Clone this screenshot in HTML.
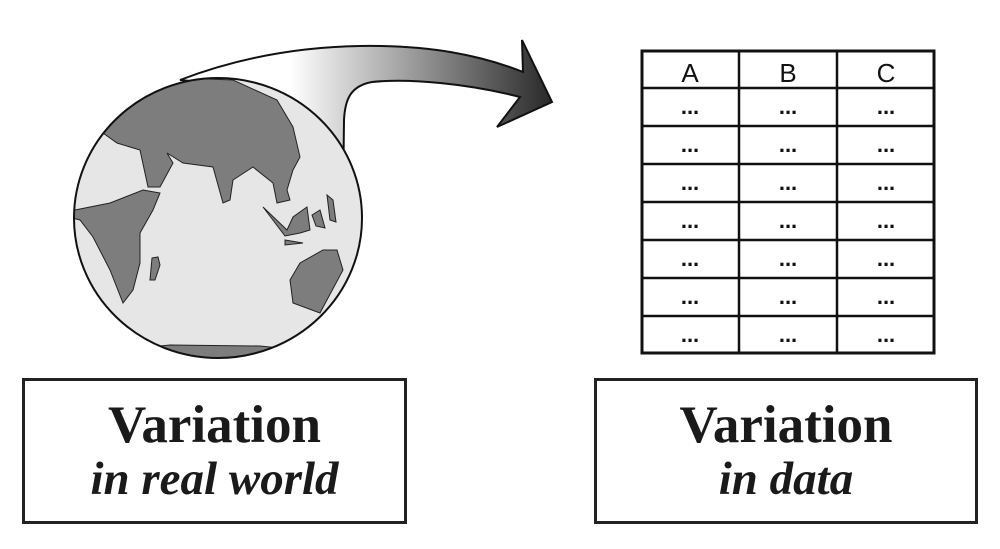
<!DOCTYPE html>
<html><head><style>
html,body{margin:0;padding:0;background:#fff;}
body{width:1000px;height:549px;position:relative;overflow:hidden;}
.box{position:absolute;top:378px;height:140px;border:3px solid #222;box-sizing:content-box;}
.t1{position:absolute;left:0;right:0;text-align:center;font-family:"Liberation Serif",serif;font-weight:bold;font-size:53px;color:#1a1a1a;line-height:53px;}
.t2{position:absolute;left:0;right:0;text-align:center;font-family:"Liberation Serif",serif;font-weight:bold;font-style:italic;font-size:47px;color:#1a1a1a;line-height:47px;}
</style></head><body>
<svg width="1000" height="549" style="position:absolute;left:0;top:0">
<defs>
<linearGradient id="g" x1="290" y1="0" x2="560" y2="0" gradientUnits="userSpaceOnUse">
<stop offset="0" stop-color="#fff"/><stop offset="1" stop-color="#222"/></linearGradient>
<clipPath id="c"><ellipse cx="218" cy="218" rx="144" ry="140"/></clipPath>
</defs>
<path d="M180,80 C240,57 300,47 360,46 C430,45 480,55 523,72 L522,40 L552,102 L497,127 L520,97 C470,84 410,78 372,82 C350,86 345,100 344,120 L343,200 C340,140 300,90 180,80 Z" fill="url(#g)" stroke="#111" stroke-width="2"/>
<ellipse cx="218" cy="218" rx="144" ry="140" fill="#e6e6e6"/>
<g fill="#7d7d7d" stroke="#222" stroke-width="1" clip-path="url(#c)">
<path d="M100,130 L127,92 L160,77 L233,80 L277,100 L293,127 L300,157 L293,170 L287,190 L290,200 L277,203 L273,183 L253,167 L233,180 L230,200 L223,203 L213,167 L183,163 L167,153 L173,163 L160,187 L148,187 L140,150 L117,143 L103,133 Z"/>
<path d="M75,210 L110,203 L143,190 L160,193 L153,210 L140,233 L140,263 L133,290 L123,303 L110,270 L93,237 L80,220 L60,215 Z"/>
<path d="M290,280 L300,263 L323,250 L337,250 L343,270 L320,313 L293,303 Z"/>
<path d="M263,207 L287,230 L293,217 L307,207 L310,230 L300,233 L285,236 Z"/>
<path d="M312,215 L320,210 L325,228 L316,226 Z"/>
<path d="M327,195 L333,200 L336,222 L330,220 Z"/>
<path d="M285,240 L303,243 L285,245 Z"/>
<path d="M152,258 L158,257 L160,265 L155,280 L150,280 Z"/>
<path d="M120,350 L170,345 L260,346 L320,352 L320,380 L120,380 Z"/>
</g>
<ellipse cx="218" cy="218" rx="144" ry="140" fill="none" stroke="#111" stroke-width="2"/>
</svg>
<svg width="1000" height="549" style="position:absolute;left:0;top:0;font-family:'Liberation Sans',sans-serif">
<rect x="642" y="51" width="292" height="302" fill="#fff" stroke="#111" stroke-width="3"/>
<g stroke="#111" stroke-width="2.5">
<line x1="739" y1="51" x2="739" y2="353"/><line x1="837" y1="51" x2="837" y2="353"/>
<line x1="642" y1="88" x2="934" y2="88"/><line x1="642" y1="126" x2="934" y2="126"/>
<line x1="642" y1="164" x2="934" y2="164"/><line x1="642" y1="202" x2="934" y2="202"/>
<line x1="642" y1="240" x2="934" y2="240"/><line x1="642" y1="278" x2="934" y2="278"/>
<line x1="642" y1="316" x2="934" y2="316"/>
</g>
<g font-size="26" text-anchor="middle" fill="#111">
<text x="690" y="82">A</text><text x="788" y="82">B</text><text x="886" y="82">C</text>
</g>
<g font-size="22" font-weight="bold" text-anchor="middle" fill="#111">
<text x="690" y="114">...</text><text x="788" y="114">...</text><text x="886" y="114">...</text>
<text x="690" y="152">...</text><text x="788" y="152">...</text><text x="886" y="152">...</text>
<text x="690" y="190">...</text><text x="788" y="190">...</text><text x="886" y="190">...</text>
<text x="690" y="228">...</text><text x="788" y="228">...</text><text x="886" y="228">...</text>
<text x="690" y="266">...</text><text x="788" y="266">...</text><text x="886" y="266">...</text>
<text x="690" y="304">...</text><text x="788" y="304">...</text><text x="886" y="304">...</text>
<text x="690" y="342">...</text><text x="788" y="342">...</text><text x="886" y="342">...</text>
</g>
</svg>
<div class="box" style="left:22px;width:379px;"><div class="t1" style="top:18px">Variation</div><div class="t2" style="top:75px">in real world</div></div>
<div class="box" style="left:594px;width:378px;"><div class="t1" style="top:18px">Variation</div><div class="t2" style="top:75px">in data</div></div>
</body></html>
